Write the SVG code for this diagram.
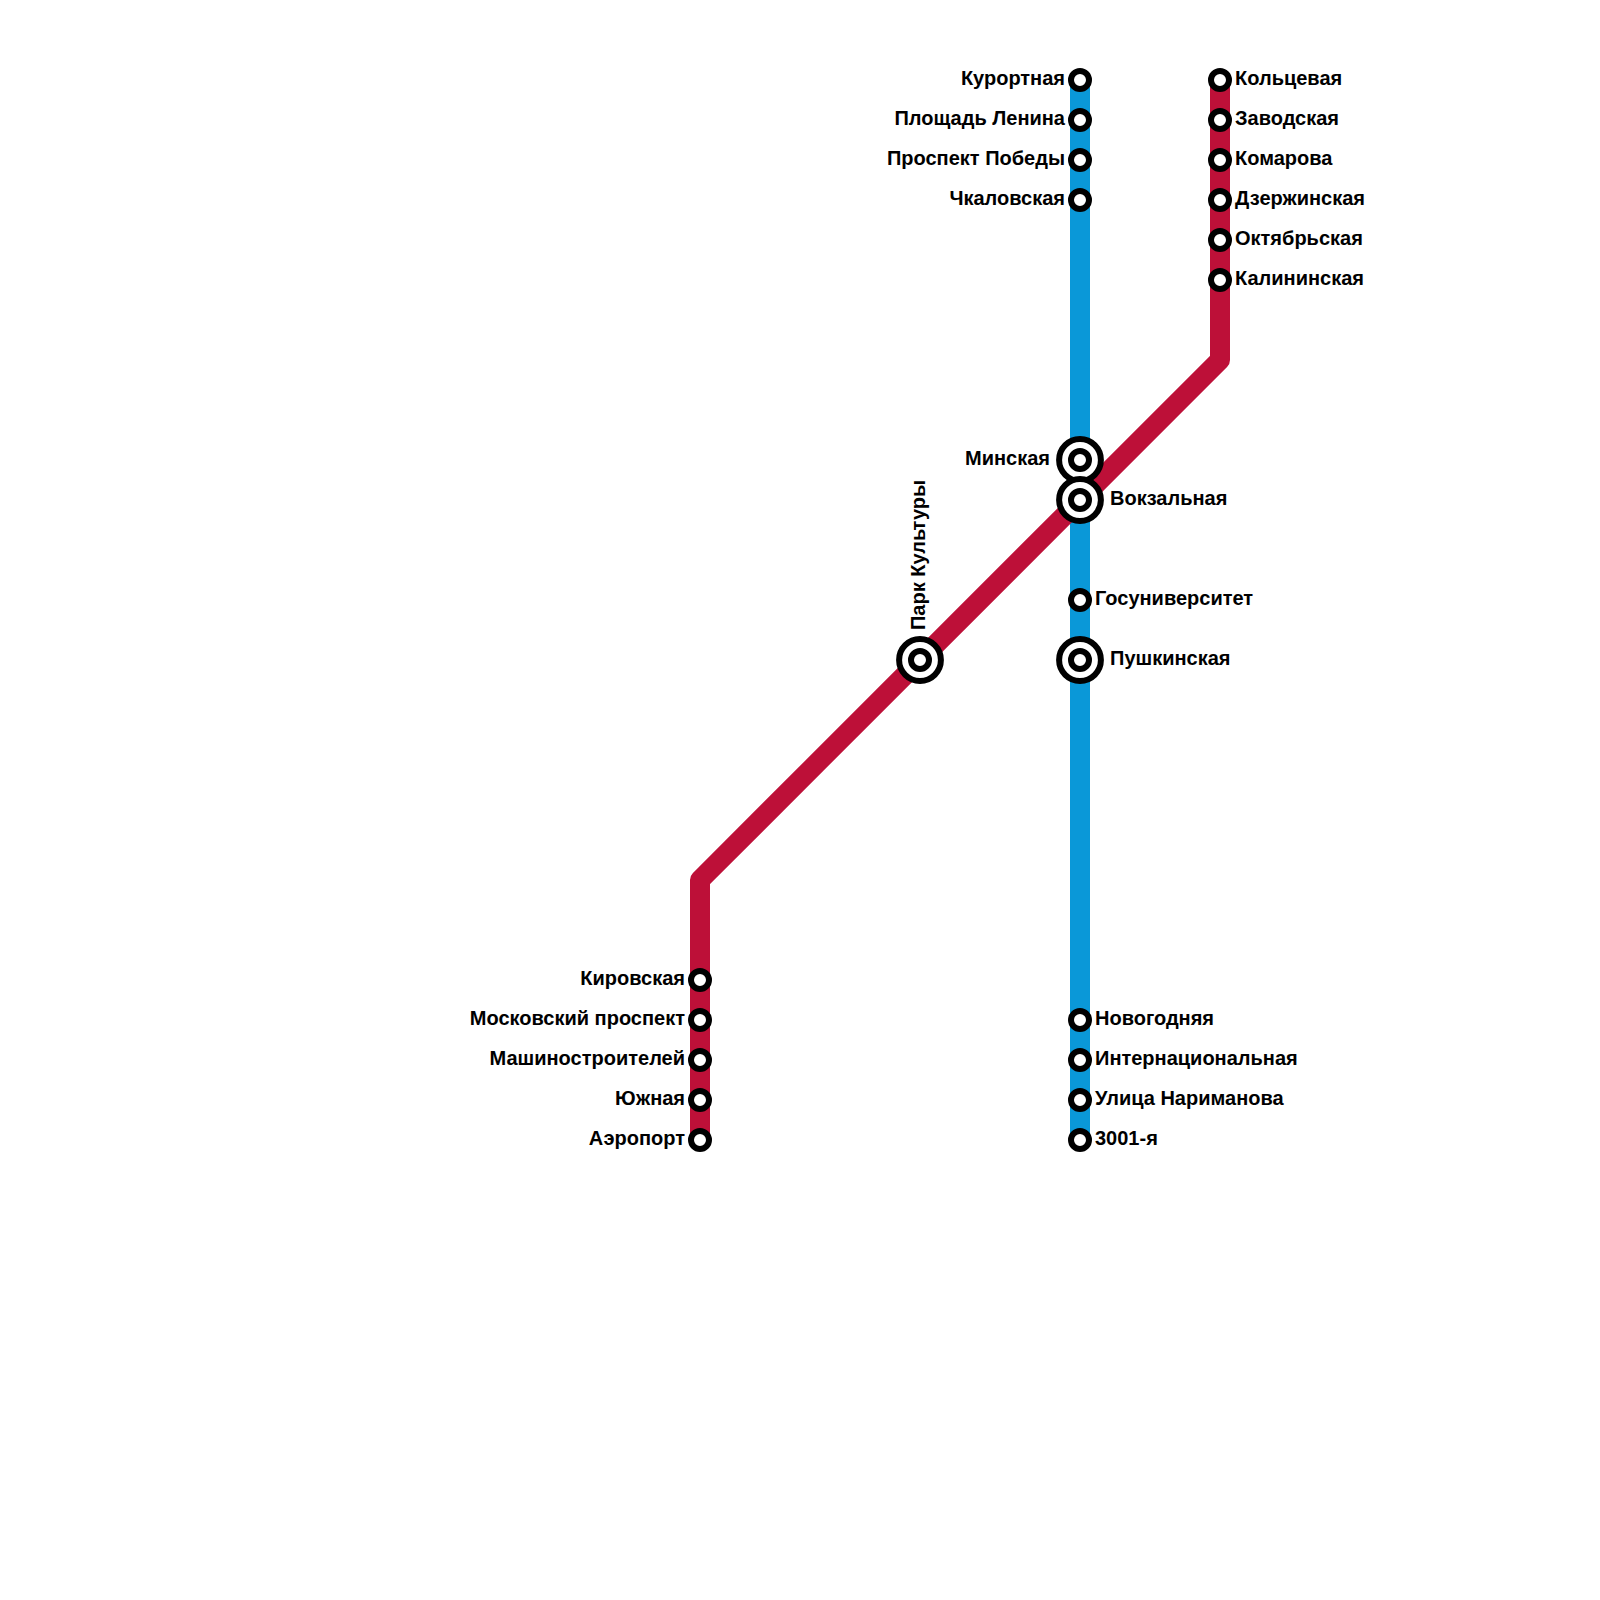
<svg xmlns="http://www.w3.org/2000/svg" width="1600" height="1600" viewBox="0 0 1600 1600">
<style>
text{font-family:"Liberation Sans",Arial,sans-serif;font-weight:bold;font-size:20px;fill:#000}
.e{text-anchor:end}
.line{fill:none;stroke-width:20;stroke-linejoin:round}
.s{fill:#fff;stroke:#000;stroke-width:6}
</style>
<defs>
<g id="st"><circle class="s" r="9"/></g>
<g id="ix"><circle class="s" r="20.9"/><circle class="s" r="9"/></g>
</defs>
<rect width="1600" height="1600" fill="#fff"/>
<g id="connectors">
<path class="line" stroke="#0a98d8" d="M1080 80V1140"/>
<path class="line" stroke="#bd1038" d="M1220 80V360L700 880V1140"/>
</g>
<g id="n1"><use href="#st" x="1080" y="80"/><text class="e" x="1065" y="85">Курортная</text></g>
<g id="n2"><use href="#st" x="1080" y="120"/><text class="e" x="1065" y="125">Площадь Ленина</text></g>
<g id="n3"><use href="#st" x="1080" y="160"/><text class="e" x="1065" y="165">Проспект Победы</text></g>
<g id="n4"><use href="#st" x="1080" y="200"/><text class="e" x="1065" y="205">Чкаловская</text></g>
<g id="n5"><use href="#ix" x="1080" y="460"/><text class="e" x="1050" y="465">Минская</text></g>
<g id="n6"><use href="#ix" x="1080" y="500"/><text x="1110" y="505">Вокзальная</text></g>
<g id="n7"><use href="#st" x="1080" y="600"/><text x="1095" y="605">Госуниверситет</text></g>
<g id="n8"><use href="#ix" x="1080" y="660"/><text x="1110" y="665">Пушкинская</text></g>
<g id="n9"><use href="#st" x="1080" y="1020"/><text x="1095" y="1025">Новогодняя</text></g>
<g id="n10"><use href="#st" x="1080" y="1060"/><text x="1095" y="1065">Интернациональная</text></g>
<g id="n11"><use href="#st" x="1080" y="1100"/><text x="1095" y="1105">Улица Нариманова</text></g>
<g id="n12"><use href="#st" x="1080" y="1140"/><text x="1095" y="1145">3001-я</text></g>
<g id="n13"><use href="#st" x="1220" y="80"/><text x="1235" y="85">Кольцевая</text></g>
<g id="n14"><use href="#st" x="1220" y="120"/><text x="1235" y="125">Заводская</text></g>
<g id="n15"><use href="#st" x="1220" y="160"/><text x="1235" y="165">Комарова</text></g>
<g id="n16"><use href="#st" x="1220" y="200"/><text x="1235" y="205">Дзержинская</text></g>
<g id="n17"><use href="#st" x="1220" y="240"/><text x="1235" y="245">Октябрьская</text></g>
<g id="n18"><use href="#st" x="1220" y="280"/><text x="1235" y="285">Калининская</text></g>
<g id="n19"><use href="#ix" x="920" y="660"/><text transform="translate(925 630) rotate(-90)">Парк Культуры</text></g>
<g id="n20"><use href="#st" x="700" y="980"/><text class="e" x="685" y="985">Кировская</text></g>
<g id="n21"><use href="#st" x="700" y="1020"/><text class="e" x="685" y="1025">Московский проспект</text></g>
<g id="n22"><use href="#st" x="700" y="1060"/><text class="e" x="685" y="1065">Машиностроителей</text></g>
<g id="n23"><use href="#st" x="700" y="1100"/><text class="e" x="685" y="1105">Южная</text></g>
<g id="n24"><use href="#st" x="700" y="1140"/><text class="e" x="685" y="1145">Аэропорт</text></g>
</svg>
